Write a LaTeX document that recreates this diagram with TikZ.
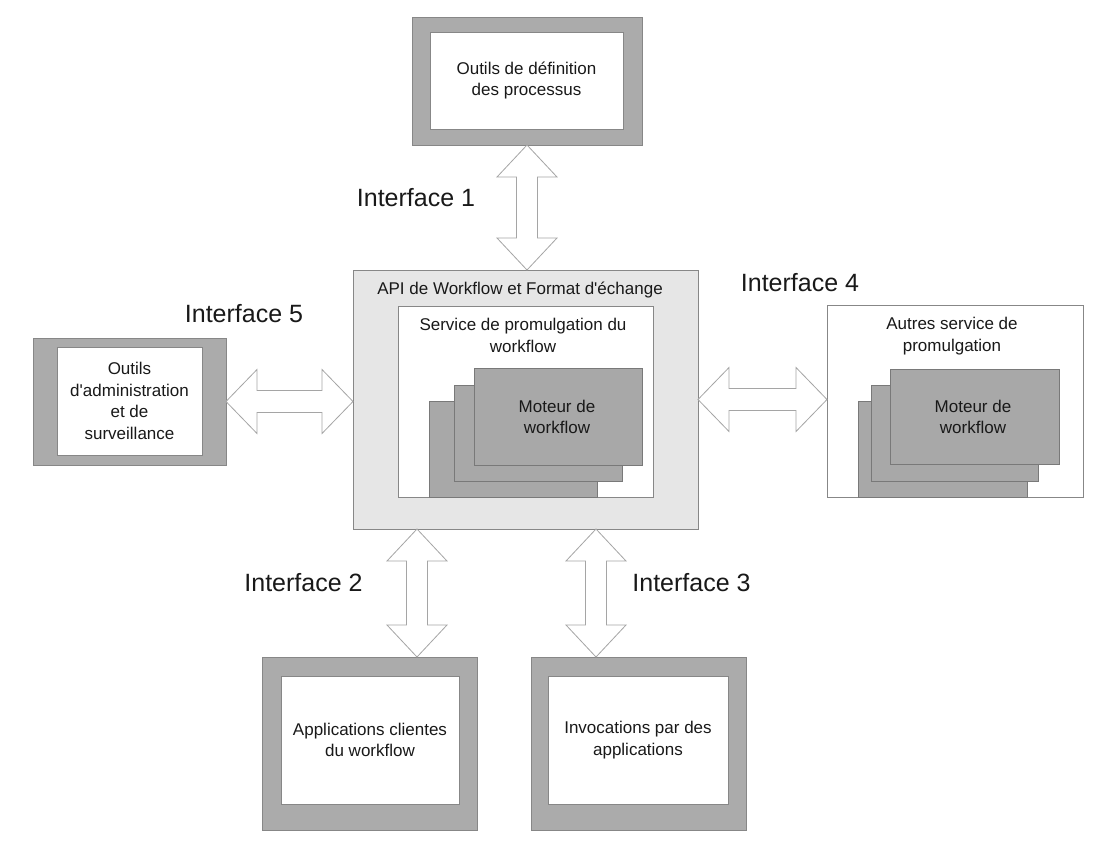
\documentclass[tikz,border=0pt]{standalone}
\usepackage{fontspec}
\setmainfont{Liberation Sans}[Ligatures=TeXOff]
\usetikzlibrary{calc}
\definecolor{boxgray}{RGB}{171,171,171}
\definecolor{edgegray}{RGB}{135,135,135}
\definecolor{apigray}{RGB}{230,230,230}
\definecolor{enggray}{RGB}{168,168,168}
\definecolor{arrgray}{RGB}{165,165,165}
\definecolor{txt}{RGB}{25,25,25}
\tikzset{
  outerbox/.style={draw=edgegray, fill=boxgray, line width=0.8pt},
  innerbox/.style={draw=edgegray, fill=white, line width=0.8pt, align=center, font=\fontsize{17}{21.5}\selectfont},
  apibox/.style={draw=edgegray, fill=apigray, line width=0.8pt},
  whitebox/.style={draw=edgegray, fill=white, line width=0.8pt},
  engbox/.style={draw=edgegray!90!black, fill=enggray, line width=0.8pt, minimum width=168pt, minimum height=96pt},
  boxtext/.style={align=center, font=\fontsize{17}{21.5}\selectfont},
  iflabel/.style={font=\fontsize{25}{30}\selectfont},
  arrstyle/.style={draw=arrgray, fill=white, line width=0.8pt, line join=miter},
}
\newcommand\vdarr[2]{\draw[arrstyle] let \p1=#1, \p2=#2 in
  (\x1,\y1) -- (\x1+30pt,\y1-32pt) -- (\x1+10.5pt,\y1-32pt) -- (\x1+10.5pt,\y2+32pt)
  -- (\x1+30pt,\y2+32pt) -- (\x1,\y2) -- (\x1-30pt,\y2+32pt) -- (\x1-10.5pt,\y2+32pt)
  -- (\x1-10.5pt,\y1-32pt) -- (\x1-30pt,\y1-32pt) -- cycle;}
\newcommand\hdarr[2]{\draw[arrstyle] let \p1=#1, \p2=#2 in
  (\x1,\y1) -- (\x1+31pt,\y1+32pt) -- (\x1+31pt,\y1+11pt) -- (\x2-31pt,\y1+11pt)
  -- (\x2-31pt,\y1+32pt) -- (\x2,\y1) -- (\x2-31pt,\y1-32pt) -- (\x2-31pt,\y1-11pt)
  -- (\x1+31pt,\y1-11pt) -- (\x1+31pt,\y1-32pt) -- cycle;}
\begin{document}
\begin{tikzpicture}[x=1pt,y=-1pt, every node/.style={inner sep=0pt, outer sep=0pt, text=txt}]
\fill[white] (0,0) rectangle (1120,855);
\useasboundingbox (0,0) rectangle (1120,855);

% top box
\node[outerbox, minimum width=230pt, minimum height=128pt] (t1o) at (527,81) {};
\node[innerbox, minimum width=193pt, minimum height=97pt] (t1) at (526.5,80.5) {Outils de définition\\des processus};

% left box
\node[outerbox, minimum width=193pt, minimum height=127pt] (l5o) at (129.5,401.5) {};
\node[innerbox, minimum width=145pt, minimum height=108pt] (l5) at (129.5,401) {Outils\\d'administration\\et de\\surveillance};

% central API box
\node[apibox, minimum width=345pt, minimum height=259pt] (api) at (525.5,399.5) {};
\node[boxtext] (apit) at (520,290) {API de Workflow et Format d'échange};
\node[whitebox, minimum width=255pt, minimum height=191pt] (svc) at (525.5,401.5) {};
\node[boxtext] (svct) at (523,335.5) {Service de promulgation du\\workflow};
\node[engbox] (e1) at (513.5,449) {};
\node[engbox] (e2) at (538,433) {};
\node[engbox, minimum height=97pt] (e3) at (558,416.5) {};
\node[boxtext] (e3t) at (557,417) {Moteur de\\workflow};

% right box
\node[whitebox, minimum width=256pt, minimum height=192pt] (r4) at (955,401) {};
\node[boxtext] (r4t) at (952,336) {Autres service de\\promulgation};
\node[engbox, minimum width=169pt] (f1) at (942.5,449) {};
\node[engbox, minimum width=167pt] (f2) at (954.5,433) {};
\node[engbox, minimum width=169pt, minimum height=95pt] (f3) at (974.5,416.5) {};
\node[boxtext] (f3t) at (973,417) {Moteur de\\workflow};

% bottom boxes
\node[outerbox, minimum width=215pt, minimum height=173pt] (b2o) at (369.5,743.5) {};
\node[innerbox, minimum width=178pt, minimum height=128pt] (b2) at (370,740) {Applications clientes\\du workflow};
\node[outerbox, minimum width=215pt, minimum height=173pt] (b3o) at (638.5,743.5) {};
\node[innerbox, minimum width=180pt, minimum height=128pt] (b3) at (638,740) {Invocations par des\\applications};

% interface labels
\node[iflabel] (if1) at (416,198) {Interface 1};
\node[iflabel] (if5) at (244,314) {Interface 5};
\node[iflabel] (if4) at (800,283) {Interface 4};
\node[iflabel] (if2) at (303.5,583) {Interface 2};
\node[iflabel] (if3) at (691.5,583) {Interface 3};

% double arrows
\vdarr{(t1o.south)}{(api.north)}
\hdarr{(l5o.east)}{(api.west)}
\hdarr{(api.east)}{(r4.west)}
\vdarr{(417,0 |- api.south)}{(417,0 |- b2o.north)}
\vdarr{(596,0 |- api.south)}{(596,0 |- b3o.north)}
\end{tikzpicture}
\end{document}
